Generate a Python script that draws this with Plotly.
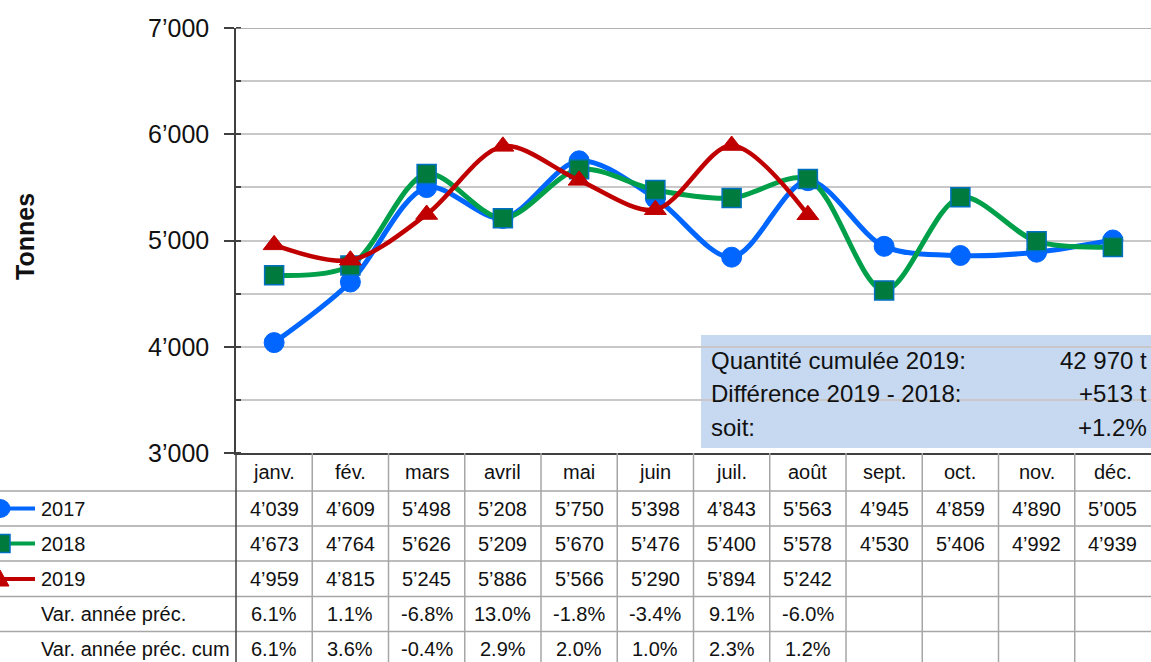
import plotly.graph_objects as go

months = ["janv.", "fév.", "mars", "avril", "mai", "juin", "juil.", "août", "sept.", "oct.", "nov.", "déc."]
y2017 = [4039, 4609, 5498, 5208, 5750, 5398, 4843, 5563, 4945, 4859, 4890, 5005]
y2018 = [4673, 4764, 5626, 5209, 5670, 5476, 5400, 5578, 4530, 5406, 4992, 4939]
y2019 = [4959, 4815, 5245, 5886, 5566, 5290, 5894, 5242]
var_prec = ["6.1%", "1.1%", "-6.8%", "13.0%", "-1.8%", "-3.4%", "9.1%", "-6.0%"]
var_cum = ["6.1%", "3.6%", "-0.4%", "2.9%", "2.0%", "1.0%", "2.3%", "1.2%"]
ytick_vals = [3000, 4000, 5000, 6000, 7000]
ytick_text = ["3’000", "4’000", "5’000", "6’000", "7’000"]
box_labels = ["Quantité cumulée 2019:", "Différence 2019 - 2018:", "soit:"]
box_values = ["42 970 t", "+513 t", "+1.2%"]

W, H = 1151, 662
L, R, T, B = 236, 0, 28, 209
PW, PH = W - L - R, H - T - B

def px(xp):
    return (xp - L) / PW

def py(yp):
    return (T + PH - yp) / PH

def fmt(v):
    return f"{v:,}".replace(",", "’")

BLUE = "#0066FF"
GREEN_L = "#00A04A"
GREEN_M = "#007A3D"
MBORDER = "#0070C0"
RED = "#C00000"
FONT = "Liberation Sans, Arial, sans-serif"
GRID = "#C8C8C8"
TBL = "#A6A6A6"
TXT = "#111111"

x = list(range(len(months)))

fig = go.Figure()
fig.add_trace(go.Scatter(x=x, y=y2017, mode="lines+markers", name="2017",
                         line=dict(color=BLUE, width=5, shape="spline", smoothing=0.9),
                         marker=dict(symbol="circle", size=20, color=BLUE, line=dict(color=BLUE, width=1))))
fig.add_trace(go.Scatter(x=x, y=y2018, mode="lines+markers", name="2018",
                         line=dict(color=GREEN_L, width=5, shape="spline", smoothing=0.9),
                         marker=dict(symbol="square", size=19, color=GREEN_M, line=dict(color=MBORDER, width=1.5))))
fig.add_trace(go.Scatter(x=x[:len(y2019)], y=y2019, mode="lines+markers", name="2019",
                         line=dict(color=RED, width=4.5, shape="spline", smoothing=0.9),
                         marker=dict(symbol="triangle-up", size=19, color=RED, line=dict(color=RED, width=1))))

shapes = []
annotations = []

# text box
shapes.append(dict(type="rect", xref="paper", yref="paper", x0=px(701), x1=px(1160), y0=py(448), y1=py(335),
                   fillcolor="#C6D9F1", line=dict(width=0), layer="below"))
for i, (lab, val) in enumerate(zip(box_labels, box_values)):
    yc = py(360 + i * 33.5)
    annotations.append(dict(xref="paper", yref="paper", x=px(709), y=yc, text=lab, showarrow=False,
                            xanchor="left", yanchor="middle", font=dict(family=FONT, size=24, color=TXT)))
    annotations.append(dict(xref="paper", yref="paper", x=px(1149), y=yc, text=val, showarrow=False,
                            xanchor="right", yanchor="middle", font=dict(family=FONT, size=24, color=TXT)))

# table grid
row_lines = [491, 526, 561, 596.5, 631.5]
for yl in row_lines:
    shapes.append(dict(type="line", xref="paper", yref="paper", x0=px(0), x1=1, y0=py(yl), y1=py(yl),
                       line=dict(color=TBL, width=1.5)))
for k in range(len(months) - 1):
    shapes.append(dict(type="line", xref="x", yref="paper", x0=k + 0.5, x1=k + 0.5, y0=0, y1=py(675),
                       line=dict(color=TBL, width=1.5)))
shapes.append(dict(type="line", xref="paper", yref="paper", x0=0, x1=0, y0=0, y1=py(675),
                   line=dict(color="#404040", width=1.5)))

row_centers = [472, 508.5, 543.5, 579, 614, 649]
for i, m in enumerate(months):
    annotations.append(dict(xref="x", yref="paper", x=i, y=py(row_centers[0]), text=m, showarrow=False,
                            xanchor="center", yanchor="middle",
                            font=dict(family=FONT, size=20, color=TXT)))
series = [y2017, y2018, y2019, var_prec, var_cum]
for r, vals in enumerate(series):
    for i, v in enumerate(vals):
        t = fmt(v) if isinstance(v, int) else v
        annotations.append(dict(xref="x", yref="paper", x=i, y=py(row_centers[r + 1]), text=t, showarrow=False,
                                xanchor="center", yanchor="middle",
                                font=dict(family=FONT, size=20, color=TXT)))

row_names = ["2017", "2018", "2019", "Var. année préc.", "Var. année préc. cum"]
for r, nm in enumerate(row_names):
    annotations.append(dict(xref="paper", yref="paper", x=px(39), y=py(row_centers[r + 1]), text=nm, showarrow=False,
                            xanchor="left", yanchor="middle", font=dict(family=FONT, size=20, color=TXT)))

# legend icons
icon_cols = [(BLUE, BLUE, "circle"), (GREEN_L, GREEN_M, "square"), (RED, RED, "triangle")]
for r, (lc, mc, sym) in enumerate(icon_cols):
    yc = row_centers[r + 1]
    shapes.append(dict(type="line", xref="paper", yref="paper", x0=px(0), x1=px(35), y0=py(yc), y1=py(yc),
                       line=dict(color=lc, width=4)))
    if sym == "circle":
        shapes.append(dict(type="circle", xref="paper", yref="paper", x0=px(-10), x1=px(10),
                           y0=py(yc + 9), y1=py(yc - 9), fillcolor=mc, line=dict(color=mc, width=1)))
    elif sym == "square":
        shapes.append(dict(type="rect", xref="paper", yref="paper", x0=px(-9), x1=px(10),
                           y0=py(yc + 9), y1=py(yc - 9), fillcolor=mc, line=dict(color=MBORDER, width=1.5)))
    else:
        path = f"M {px(-10)} {py(yc + 7)} L {px(9)} {py(yc + 7)} L {px(0)} {py(yc - 9)} Z"
        shapes.append(dict(type="path", xref="paper", yref="paper", path=path, fillcolor=mc, line=dict(color=mc, width=1)))

# top border line at 7000
shapes.append(dict(type="line", xref="paper", yref="y", x0=0, x1=1, y0=7000, y1=7000,
                   line=dict(color="#999999", width=1.5)))

# y axis title
annotations.append(dict(xref="paper", yref="paper", x=px(25), y=py(237), text="<b>Tonnes</b>", textangle=-90,
                        showarrow=False, xanchor="center", yanchor="middle",
                        font=dict(family=FONT, size=25, color=TXT)))

fig.update_layout(
    width=W, height=H,
    margin=dict(l=L, r=R, t=T, b=B, pad=0),
    paper_bgcolor="white", plot_bgcolor="white",
    showlegend=False,
    shapes=shapes, annotations=annotations,
    xaxis=dict(range=[-0.5, len(months) - 0.5], showticklabels=False, showgrid=False, zeroline=False,
               showline=True, linecolor="#404040", linewidth=1.5, ticks="", fixedrange=True),
    yaxis=dict(range=[3000, 7000], tickvals=ytick_vals, ticktext=ytick_text,
               showgrid=True, gridcolor=GRID, gridwidth=1.5, zeroline=False,
               showline=True, linecolor="#404040", linewidth=1.5,
               ticks="outside", ticklen=10, tickcolor="#404040", tickwidth=1.5,
               ticklabelstandoff=10,
               tickfont=dict(family=FONT, size=25, color=TXT),
               minor=dict(dtick=500, tick0=3000, showgrid=True, gridcolor=GRID, gridwidth=1.5,
                          ticks="inside", ticklen=5, tickcolor="#404040"),
               fixedrange=True),
)

fig.write_html("out.html", config={"displayModeBar": False},
               post_script="document.body.style.margin='0';document.body.style.overflow='hidden';")
